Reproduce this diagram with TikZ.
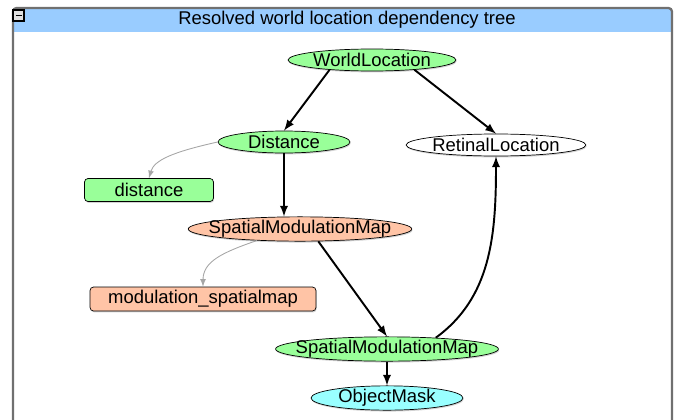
\documentclass[tikz,border=0pt]{standalone}
\usepackage{fontspec}
\setmainfont{Liberation Sans}
\usepackage{xcolor}
\usepackage{tikz}
\usetikzlibrary{arrows, shapes.geometric, shadows}

\definecolor{titelblau}{RGB}{153,204,255}
\definecolor{rahmengrau}{RGB}{112,112,112}
\definecolor{knotengruen}{RGB}{153,255,153}
\definecolor{knotenorange}{RGB}{255,196,166}
\definecolor{knotencyan}{RGB}{153,255,255}

\tikzset{
	knoten/.style={
		ellipse,
		draw,
		inner sep=0pt,
		minimum height=0.44cm,
		drop shadow={shadow xshift=0.4pt, shadow yshift=-0.8pt, opacity=0.35}
	},
	kasten/.style={
		rectangle,
		rounded corners=2pt,
		draw,
		inner sep=0pt,
		minimum height=0.46cm,
		drop shadow={shadow xshift=0.4pt, shadow yshift=-0.8pt, opacity=0.35}
	},
	pfeil/.style={
		-latex,
		line width=1.1pt,
		color=black
	},
	grauerpfeil/.style={
		-latex,
		line width=0.5pt,
		color=gray!70
	}
}

\begin{document}
\begin{tikzpicture}[
	x=0.02cm,
	y=-0.02cm,
	font=\fontsize{10.5}{12}\selectfont
]
	\useasboundingbox (0,0) rectangle (679,419);
	\clip (0,0) rectangle (679,419);
	% Titelleiste
	\fill[
		color=titelblau
	] (13,8) rectangle (672,32);
	\node (titel) at (347,20) {Resolved world location dependency tree};
	% Rahmen
	\draw[
		line width=1.3pt,
		color=rahmengrau,
		rounded corners=2pt
	] (13,440) -- (13,8) -- (672,8) -- (672,440);
	% Minus-Knopf
	\draw[
		line width=0.6pt,
		fill=gray!25
	] (13,10) rectangle (24,21);
	\draw[
		line width=1pt
	] (15.5,15.5) -- (21.5,15.5);

	% Knoten
	\node[knoten, fill=knotengruen, minimum width=3.36cm]  (world)   at (372,60)  {WorldLocation};
	\node[knoten, fill=knotengruen, minimum width=2.64cm]  (dist)    at (284,142) {Distance};
	\node[knoten, fill=white, minimum width=3.56cm]        (retinal) at (496,145) {RetinalLocation};
	\node[kasten, fill=knotengruen, minimum width=2.58cm]  (distbox) at (149,190) {distance};
	\node[knoten, fill=knotenorange, inner xsep=-0.245cm]  (smma)    at (300,229) {SpatialModulationMap};
	\node[kasten, fill=knotenorange, minimum width=4.52cm, minimum height=0.48cm] (modbox) at (203,299) {modulation\_spatialmap};
	\node[knoten, fill=knotengruen, inner xsep=-0.25cm]    (smmb)    at (387,349) {SpatialModulationMap};
	\node[knoten, fill=knotencyan, minimum width=3.04cm]   (objmask) at (387,398) {ObjectMask};

	% Pfeile
	\draw [pfeil] (world.193) to (dist.north);
	\draw [pfeil] (world.347) to (retinal.north);
	\draw [pfeil] (dist.south) to (smma.north -| dist.south);
	\draw [pfeil] (smma.326) to (smmb.north);
	\draw [pfeil] (smmb.south) to (objmask.north);
	\draw [pfeil] (smmb.13) .. controls +(55,-40) and +(0,80) .. (retinal.south);
	\draw [grauerpfeil] (dist.west) .. controls +(-45,10) and +(5,-18) .. (distbox.north);
	\draw [grauerpfeil] (smma.195) .. controls +(-35,12) and +(0,-25) .. (modbox.north);
\end{tikzpicture}
\end{document}
